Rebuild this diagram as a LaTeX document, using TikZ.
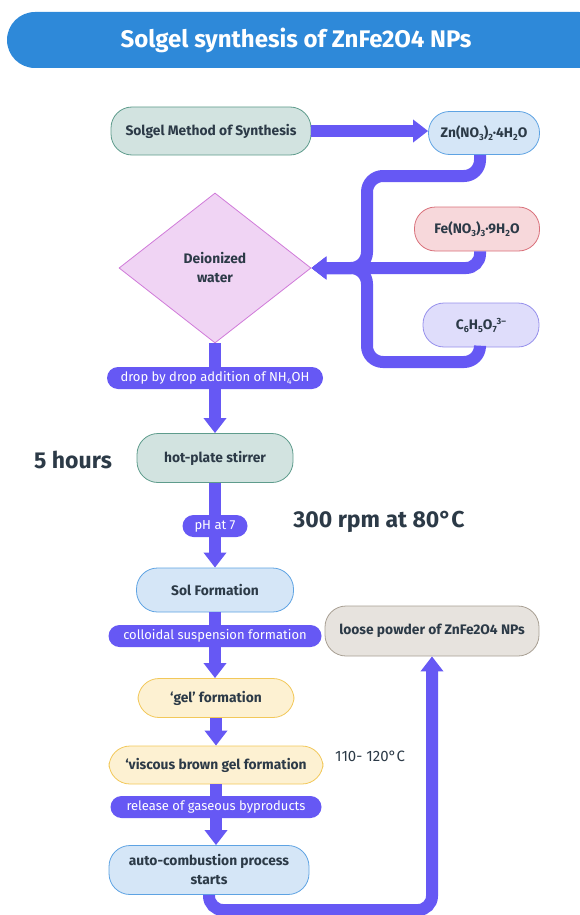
\documentclass[tikz,border=0pt]{standalone}
\usepackage{fontspec}
\setmainfont{Fira Sans}
\usetikzlibrary{arrows.meta,shapes.geometric}
\definecolor{titlec}{HTML}{2E89D9}
\definecolor{flow}{HTML}{6658F4}
\definecolor{txt}{HTML}{2C3A47}
\definecolor{tealf}{HTML}{D2E3E0}\definecolor{teald}{HTML}{5E9C8C}
\definecolor{bluef}{HTML}{D5E6F7}\definecolor{blued}{HTML}{5EA3E3}
\definecolor{redf}{HTML}{F7D8DB}\definecolor{redd}{HTML}{D9707A}
\definecolor{violf}{HTML}{DFDDFB}\definecolor{viold}{HTML}{9690EC}
\definecolor{pinkf}{HTML}{F0D4F4}\definecolor{pinkd}{HTML}{D07AD9}
\definecolor{yelf}{HTML}{FDF1D2}\definecolor{yeld}{HTML}{F2C85A}
\definecolor{greyf}{HTML}{E7E3DE}\definecolor{greyd}{HTML}{A89F93}
\newcommand{\chsub}[1]{\raisebox{-0.35ex}{\fontsize{9}{9}\selectfont #1}}
\newcommand{\chsup}[1]{\raisebox{0.75ex}{\fontsize{9}{9}\selectfont #1}}
\tikzset{
  pbox/.style 2 args={draw=#2, fill=#1, rounded corners=21pt, line width=0.8pt,
    text=txt, font=\bfseries\fontsize{13.8}{19}\selectfont, align=center, inner sep=0pt},
  conn/.style={draw=flow, line width=12pt},
  arr/.style={conn, -{Triangle[width=22pt,length=15pt]}},
  tag/.style={fill=flow, text=white, rounded corners=11pt, minimum height=22pt,
    inner sep=0pt, font=\fontsize{13}{15}\selectfont},
  big/.style={text=txt, font=\bfseries\fontsize{23}{26}\selectfont, inner sep=0pt}
}
\begin{document}
\begin{tikzpicture}[x=1pt,y=-1pt]
\useasboundingbox (0,0) rectangle (580,915);
% title
\node[fill=titlec, rounded corners=28pt, minimum width=600pt, minimum height=56pt, inner sep=0pt] (titlebar) at (307,40) {};
\node[text=white, font=\bfseries\fontsize{24}{27}\selectfont] (title) at (296,40) {Solgel synthesis of ZnFe2O4 NPs};
% nodes
\node[pbox={tealf}{teald}, minimum width=200pt, minimum height=48pt] (solgel) at (211,131) {Solgel Method of Synthesis};
\node[pbox={bluef}{blued}, minimum width=111pt, minimum height=43pt] (zn) at (484,133) {Zn(NO\chsub{3})\chsub{2}·4H\chsub{2}O};
\node[pbox={redf}{redd}, minimum width=125pt, minimum height=44pt] (fe) at (477,229) {Fe(NO\chsub{3})\chsub{3}·9H\chsub{2}O};
\node[pbox={violf}{viold}, minimum width=116pt, minimum height=44pt] (c6) at (481,325) {C\chsub{6}H\chsub{5}O\chsub{7}\chsup{3–}};
\node[diamond, draw=pinkd, fill=pinkf, line width=0.8pt, minimum width=192pt, minimum height=150pt, inner sep=0pt,
  text=txt, font=\bfseries\fontsize{13.8}{19}\selectfont, align=center] (dia) at (215,268) {Deionized\\water};
\node[pbox={tealf}{teald}, minimum width=156pt, minimum height=49pt] (hot) at (215,458) {hot-plate stirrer};
\node[pbox={bluef}{blued}, minimum width=157pt, minimum height=44pt] (sol) at (215,590) {Sol Formation};
\node[pbox={yelf}{yeld}, minimum width=156pt, minimum height=39pt] (gel) at (216,698) {‘gel’ formation};
\node[pbox={yelf}{yeld}, minimum width=214pt, minimum height=38pt] (visc) at (216,765) {‘viscous brown gel formation};
\node[pbox={bluef}{blued}, minimum width=200pt, minimum height=49pt] (auto) at (209,870) {auto-combustion process\\starts};
\node[pbox={greyf}{greyd}, minimum width=214pt, minimum height=50pt] (loose) at (432,631) {loose powder of ZnFe2O4 NPs};
% side texts
\node[big] (hours) at (73,460) {5 hours};
\node[big] (rpm) at (379,522) {300 rpm at 80°C};
\node[text=txt, font=\fontsize{15}{17}\selectfont, inner sep=0pt, anchor=west] (temp) at (335,756) {110- 120°C};
% helper coordinates
\coordinate (sx) at (480,0);
\coordinate (b1) at (480,176);
\coordinate (b2) at (367,176);
\coordinate (j) at (367,268);
\coordinate (b3) at (367,362);
\coordinate (b4) at (480,362);
\coordinate (f1) at (480,268);
\coordinate (l1) at (209,910);
\coordinate (l2) at (432,910);
% connectors
\draw[arr] (solgel.east) -- (solgel.east -| zn.west);
\draw[arr, rounded corners=16pt] (zn.south -| sx) -- (b1) -- (b2) -- (j) -- (dia.east);
\draw[arr, rounded corners=16pt] (c6.south -| sx) -- (b4) -- (b3) -- (j) -- (dia.east);
\draw[arr, rounded corners=14pt] (fe.south -| sx) -- (f1) -- (dia.east);
\draw[arr] (dia.south) -- (hot.north);
\draw[arr] (hot.south) -- (sol.north);
\draw[arr] (sol.south) -- (gel.north -| sol.south);
\draw[arr] (gel.south) -- (visc.north);
\draw[arr] (visc.south) -- (auto.north -| visc.south);
\draw[arr, rounded corners=14pt] (auto.south) -- (l1) -- (l2) -- (loose.south);
% labels on connectors
\node[tag, minimum width=216pt] (drop) at (215,378) {drop by drop addition of NH\chsub{4}OH};
\node[tag, minimum width=65pt] (ph) at (215,526) {pH at 7};
\node[tag, minimum width=213pt] (coll) at (215,636) {colloidal suspension formation};
\node[tag, minimum width=211pt] (rel) at (216,807) {release of gaseous byproducts};
\end{tikzpicture}
\end{document}
